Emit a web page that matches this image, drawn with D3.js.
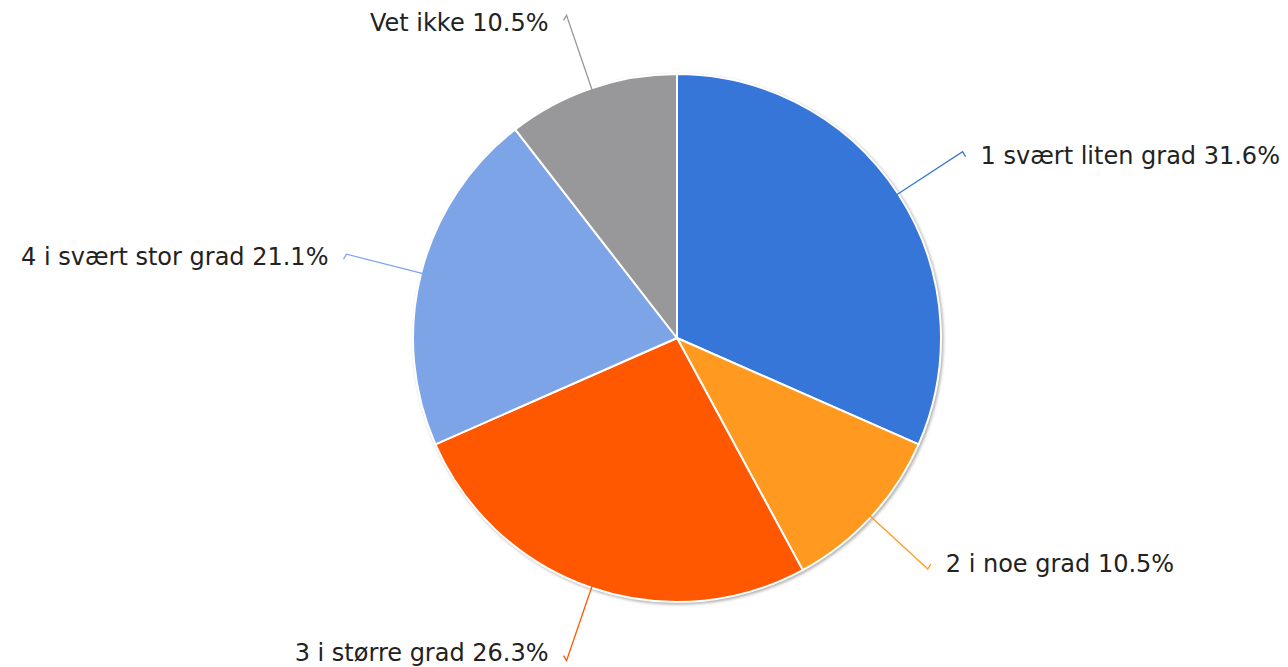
<!DOCTYPE html>
<html>
<head>
<meta charset="utf-8">
<script src="https://cdn.jsdelivr.net/npm/d3@7"></script>
<style>
  body { margin: 0; background: #fff; }
  svg { display: block; }
</style>
</head>
<body>
<svg id="chart"></svg>
<script>
const categories = ["1 svært liten grad", "2 i noe grad", "3 i større grad", "4 i svært stor grad", "Vet ikke"];
const values = [31.6, 10.5, 26.3, 21.1, 10.5];
const colors = ["#3776d9", "#ff991f", "#ff5800", "#7ea4e8", "#98989b"];

const width = 1288, height = 667;
const cx = 677, cy = 338, radius = 264;

const svg = d3.select("#chart").attr("width", width).attr("height", height);

const defs = svg.append("defs");
const blur = defs.append("filter").attr("id", "shadow")
    .attr("x", "-10%").attr("y", "-10%").attr("width", "120%").attr("height", "120%");
blur.append("feGaussianBlur").attr("stdDeviation", 1.5);

const g = svg.append("g").attr("transform", "translate(" + cx + "," + cy + ")");

// soft shadow behind the pie
g.append("circle")
    .attr("cx", 1.5).attr("cy", 1.5)
    .attr("r", radius + 1)
    .attr("fill", "#b0b0b0")
    .attr("filter", "url(#shadow)");

const pie = d3.pie().sort(null).value(d => d)(values);
const arc = d3.arc().innerRadius(0).outerRadius(radius);

g.selectAll(".slice")
    .data(pie)
    .enter()
    .append("path")
    .attr("class", "slice")
    .attr("d", arc)
    .attr("fill", (d, i) => colors[i])
    .attr("stroke", "#fff")
    .attr("stroke-width", 2)
    .attr("stroke-linejoin", "round");

// leader lines and labels
const lineOut = 77;
const inner = d3.arc().innerRadius(radius - 4).outerRadius(radius - 4);
const outer = d3.arc().innerRadius(radius + lineOut).outerRadius(radius + lineOut);

pie.forEach((d, i) => {
    const mid = (d.startAngle + d.endAngle) / 2;
    const p0 = inner.centroid({ startAngle: mid, endAngle: mid });
    const p1 = outer.centroid({ startAngle: mid, endAngle: mid });
    const sx = p1[0] >= 0 ? 1 : -1;
    const sy = p1[1] >= 0 ? 1 : -1;
    const p2 = [p1[0] + sx * 3, p1[1] - sy * 5];

    g.append("path")
        .attr("d", d3.line()([p0, p1, p2]))
        .attr("fill", "none")
        .attr("stroke", colors[i])
        .attr("stroke-width", 1.3);

    g.append("text")
        .attr("x", p1[0] + sx * 18)
        .attr("y", p1[1] + 8 * Math.cos(mid))
        .attr("dy", "0.35em")
        .attr("text-anchor", sx > 0 ? "start" : "end")
        .attr("font-family", "DejaVu Sans, sans-serif")
        .attr("font-size", "24px")
        .attr("fill", "#222")
        .text(categories[i] + " " + values[i].toFixed(1) + "%");
});
</script>
</body>
</html>
